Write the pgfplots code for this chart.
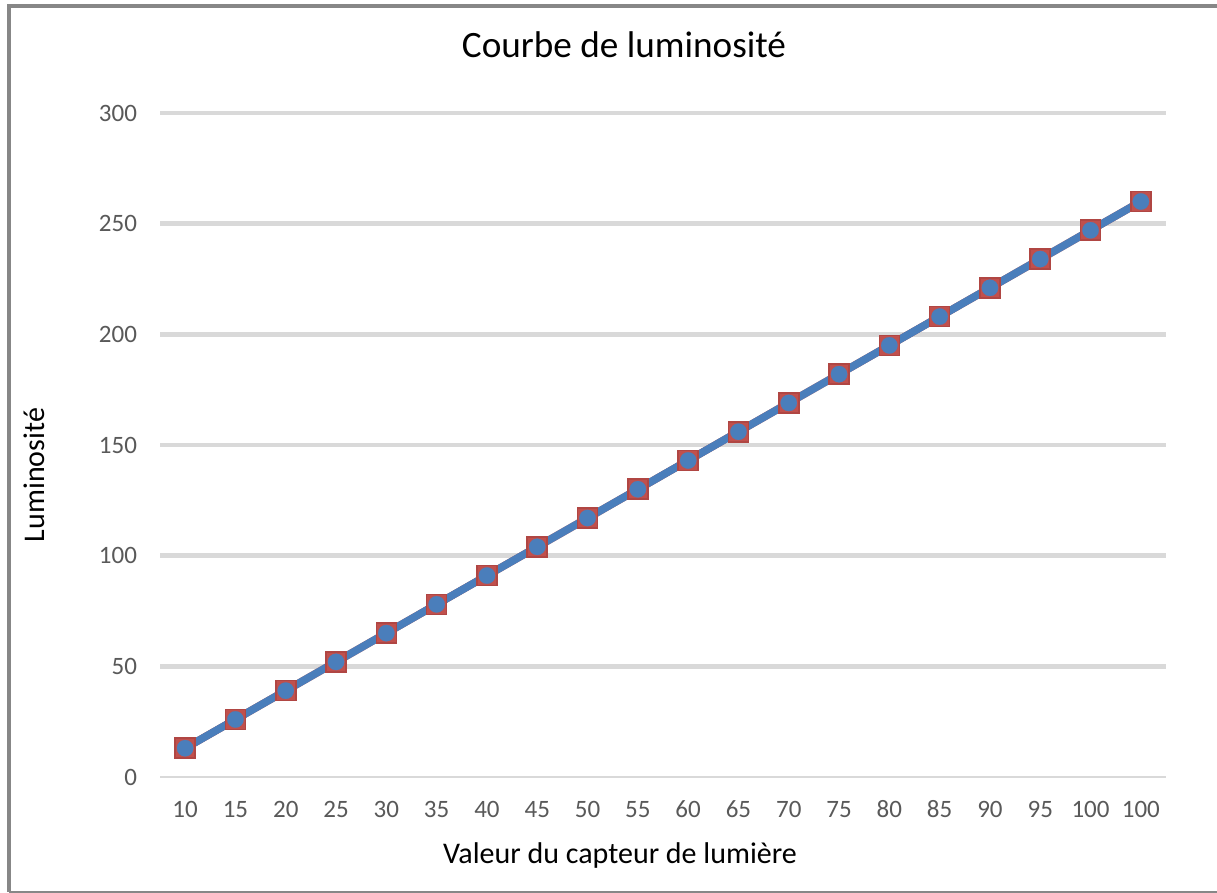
\documentclass[border=0pt]{standalone}
\usepackage{pgfplots}
\pgfplotsset{compat=1.18}
\usepackage{fontspec}
\setmainfont{Carlito}
\definecolor{xlblue}{HTML}{4A7EBB}
\definecolor{xlred}{HTML}{C0504D}
\definecolor{xlreddark}{HTML}{B04643}
\definecolor{gridgray}{HTML}{D9D9D9}
\definecolor{ticklab}{HTML}{595959}
\definecolor{framegray}{HTML}{878787}
\pgfplotstableread{
x y
0 13
1 26
2 39
3 52
4 65
5 78
6 91
7 104
8 117
9 130
10 143
11 156
12 169
13 182
14 195
15 208
16 221
17 234
18 247
19 260
}\lumdata
\begin{document}
\begin{tikzpicture}[x=1pt,y=1pt]
\path[use as bounding box] (0,0) rectangle (608.5,446.5);
\fill[white] (0,0) rectangle (608.5,446.5);
\draw[framegray, line width=2pt] (4.5,0.5) -- (4.5,443.5) -- (608.5,443.5);
\draw[framegray, line width=0.8pt] (4.5,0.4) -- (608.5,0.4);
\begin{axis}[
  at={(80pt,58pt)}, anchor=south west,
  scale only axis, width=503pt, height=332pt,
  xmin=-0.5, xmax=19.5, ymin=0, ymax=300,
  axis x line*=bottom, axis y line*=left,
  x axis line style={-, draw=gridgray, line width=0.8pt},
  y axis line style={draw=none},
  major tick length=0pt,
  xtick={0,...,19},
  xticklabels={10,15,20,25,30,35,40,45,50,55,60,65,70,75,80,85,90,95,100,100},
  ytick={50,100,...,300},
  extra y ticks={0},
  extra y tick style={grid=none},
  ymajorgrids,
  grid style={draw=gridgray, line width=2.2pt},
  /pgf/number format/assume math mode=true,
  tick label style={font=\fontsize{12.5}{14}\selectfont, text=ticklab},
  xticklabel style={text height=8.5pt, text depth=0pt, yshift=-8pt},
  yticklabel style={xshift=-8pt},
  clip=false,
]
\addplot[xlred, line width=3.8pt, mark=square*, mark size=5pt,
  mark options={fill=xlred, draw=xlreddark, line width=0.8pt, solid}] table[x=x, y=y] {\lumdata};
\addplot[xlblue, line width=3.8pt, mark=*, mark size=4.1pt,
  mark options={fill=xlblue, draw=xlblue, line width=0.1pt, solid}] table[x=x, y=y] {\lumdata};
\end{axis}
\node[anchor=base, font=\fontsize{18.6}{22}\selectfont] at (312,417.5) {Courbe de luminosité};
\node[anchor=base, font=\fontsize{15}{18}\selectfont] at (310,14.5) {Valeur du capteur de lumière};
\node[anchor=base, rotate=90, font=\fontsize{15}{18}\selectfont] at (22,209) {Luminosité};
\end{tikzpicture}
\end{document}
